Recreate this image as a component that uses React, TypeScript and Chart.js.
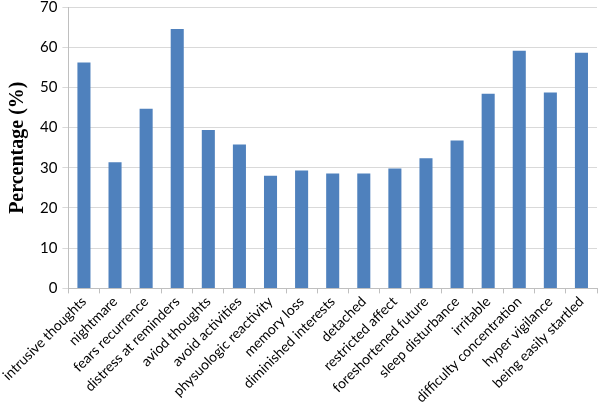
import React, { useEffect, useRef } from "react";
import { Chart, registerables } from "chart.js";

Chart.register(...registerables);

const categories = [
  "intrusive thoughts",
  "nightmare",
  "fears recurrence",
  "distress at reminders",
  "aviod thoughts",
  "avoid activities",
  "physuologic reactivity",
  "memory loss",
  "diminished interests",
  "detached",
  "restricted affect",
  "foreshortened future",
  "sleep disturbance",
  "irritable",
  "difficulty concentration",
  "hyper vigilance",
  "being easily startled",
];

const percentages = [
  56.2, 31.4, 44.7, 64.5, 39.4, 35.8, 28.0, 29.3, 28.6, 28.6, 29.8, 32.4, 36.8,
  48.4, 59.1, 48.7, 58.6,
];

const yTicks = [0, 10, 20, 30, 40, 50, 60, 70];

export default function App() {
  const ref = useRef<HTMLCanvasElement | null>(null);

  useEffect(() => {
    document.body.style.margin = "0";
    if (!ref.current) return;
    const chart = new Chart(ref.current, {
      type: "bar",
      data: {
        labels: categories,
        datasets: [
          {
            data: percentages,
            backgroundColor: "#4F81BD",
            borderWidth: 0,
            barPercentage: 0.42,
            categoryPercentage: 1,
          },
        ],
      },
      options: {
        animation: false,
        responsive: false,
        maintainAspectRatio: false,
        layout: { padding: { top: 7, right: 3, left: 6, bottom: 0 } },
        plugins: {
          legend: { display: false },
          tooltip: { enabled: false },
        },
        scales: {
          x: {
            offset: true,
            grid: {
              display: true,
              offset: true,
              drawOnChartArea: false,
              color: "#bfbfbf",
              tickLength: 5,
            },
            border: { color: "#bfbfbf" },
            ticks: {
              autoSkip: false,
              maxRotation: 45,
              minRotation: 45,
              color: "#000",
              padding: 0,
              font: { family: "Lato", size: 14 },
            },
          },
          y: {
            min: 0,
            max: 70,
            afterBuildTicks: (axis: any) => {
              axis.ticks = yTicks.map((v) => ({ value: v }));
            },
            afterFit: (axis: any) => {
              axis.paddingTop = 0;
            },
            grid: { color: "#d9d9d9", tickLength: 6 },
            border: { color: "#bfbfbf", display: true },
            ticks: {
              color: "#000",
              padding: 5,
              font: { family: "Lato", size: 15 },
            },
            title: {
              display: true,
              text: "Percentage (%)",
              color: "#000",
              padding: { top: 0, bottom: 5 },
              font: { family: "Liberation Serif", size: 20, weight: "bold" },
            },
          },
        },
      },
    });
    return () => chart.destroy();
  }, []);

  return (
    <div style={{ position: "absolute", left: 0, top: 0, width: 600, height: 406 }}>
      <canvas ref={ref} width={600} height={406} />
    </div>
  );
}
